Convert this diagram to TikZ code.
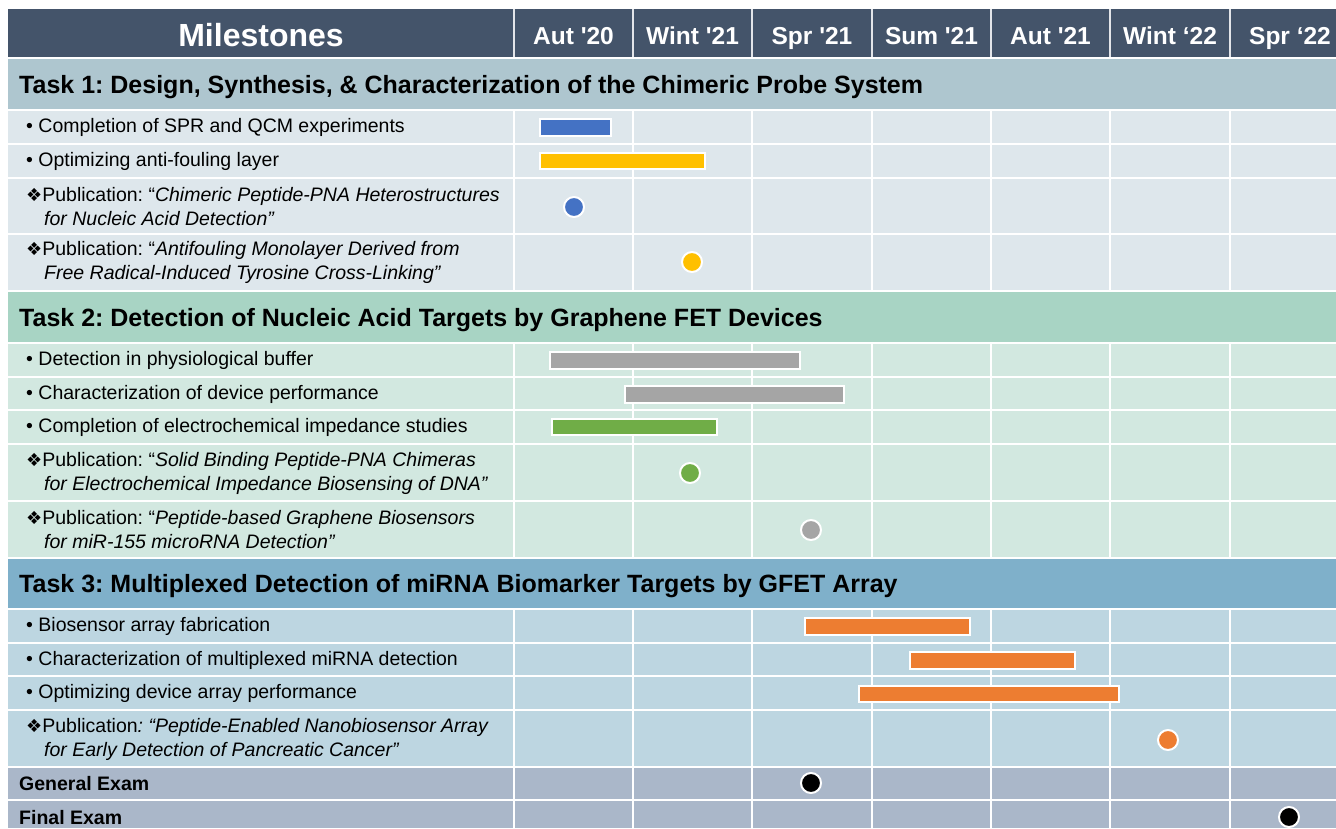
\documentclass[tikz,border=0pt]{standalone}
\usepackage{fontspec}
\setmainfont{Liberation Sans}
\newfontfamily\symfont{DejaVu Sans}
\frenchspacing
\definecolor{hdr}{HTML}{44546A}
\definecolor{tonebandA}{HTML}{AEC6CF}
\definecolor{tonerowA}{HTML}{DEE7EC}
\definecolor{tonebandB}{HTML}{A8D4C4}
\definecolor{tonerowB}{HTML}{D2E8E0}
\definecolor{tonebandC}{HTML}{7FB0CA}
\definecolor{tonerowC}{HTML}{BDD6E1}
\definecolor{toneexam}{HTML}{AAB7C9}
\definecolor{cblue}{HTML}{4472C4}
\definecolor{cyellow}{HTML}{FFC000}
\definecolor{cgray}{HTML}{A5A5A5}
\definecolor{cgreen}{HTML}{70AD47}
\definecolor{corange}{HTML}{ED7D31}
\newcommand{\dia}{{\symfont\fontsize{18}{18}\selectfont ❖}}
\newcommand{\pubindent}{\hspace*{18pt}}
\tikzset{
  hdrtxt/.style={text=white, inner sep=0pt, anchor=base, font=\bfseries\fontsize{24.5}{28}\selectfont},
  tasktxt/.style={anchor=west, inner sep=0pt, font=\bfseries\fontsize{25}{30}\selectfont},
  rowtxt/.style={anchor=west, inner sep=0pt, align=left, font=\fontsize{19.5}{24}\selectfont},
  examtxt/.style={anchor=west, inner sep=0pt, font=\bfseries\fontsize{19.5}{24}\selectfont},
  gridline/.style={draw=white, line width=2pt},
  hdrline/.style={draw=white!85!hdr, line width=1.3pt},
  barbox/.style={draw=white, line width=2pt},
  dot/.style={circle, draw=white, line width=2pt, minimum size=20pt, inner sep=0pt},
}
\begin{document}
\begin{tikzpicture}[x=1pt,y=-1pt]
\useasboundingbox (0,0) rectangle (1336,828);
\fill[white] (0,0) rectangle (1336,828);
% row fills
\fill[hdr] (8,9) rectangle (1336,57.5);
\fill[tonebandA] (8,57.5) rectangle (1336,109.5);
\fill[tonerowA] (8,109.5) rectangle (1336,290.5);
\fill[tonebandB] (8,290.5) rectangle (1336,342.5);
\fill[tonerowB] (8,342.5) rectangle (1336,557.5);
\fill[tonebandC] (8,557.5) rectangle (1336,608.5);
\fill[tonerowC] (8,608.5) rectangle (1336,766.5);
\fill[toneexam] (8,766.5) rectangle (1336,828);
% horizontal grid lines
\foreach \yy in {57.5,109.5,143.5,177.5,233.5,290.5,342.5,376.5,409.5,443.5,500.5,557.5,608.5,642.5,675.5,709.5,766.5,799.5}
  \draw[gridline] (8,\yy) -- (1336,\yy);
% vertical grid lines
\foreach \xx in {514,633,752,872,991,1110,1230}{
  \draw[hdrline] (\xx,9) -- (\xx,56.5);
  \draw[gridline] (\xx,109.5) -- (\xx,290.5);
  \draw[gridline] (\xx,342.5) -- (\xx,557.5);
  \draw[gridline] (\xx,608.5) -- (\xx,828);
}
% header
\node[hdrtxt, font=\bfseries\fontsize{32}{36}\selectfont] (ms) at (261,46.5) {Milestones};
\node[hdrtxt] (m1) at (573.5,44) {Aut \textquotesingle 20};
\node[hdrtxt] (m2) at (692.5,44) {Wint \textquotesingle 21};
\node[hdrtxt] (m3) at (812,44) {Spr \textquotesingle 21};
\node[hdrtxt] (m4) at (931.5,44) {Sum \textquotesingle 21};
\node[hdrtxt] (m5) at (1050.5,44) {Aut \textquotesingle 21};
\node[hdrtxt] (m6) at (1170,44) {Wint ‘22};
\node[hdrtxt] (m7) at (1290,44) {Spr ‘22};
% task headings
\node[tasktxt] (t1) at (19,87) {Task 1: Design, Synthesis, \& Characterization of the Chimeric Probe System};
\node[tasktxt] (t2) at (19,320) {Task 2: Detection of Nucleic Acid Targets by Graphene FET Devices};
\node[tasktxt] (t3) at (19,586.5) {Task 3: Multiplexed Detection of miRNA Biomarker Targets by GFET Array};
% task 1 rows
\node[rowtxt] (r1) at (26,127.5) {• Completion of SPR and QCM experiments};
\node[rowtxt] (r2) at (26,161.5) {• Optimizing anti-fouling layer};
\node[rowtxt] (r3) at (26,206.5) {\dia Publication: “\textit{Chimeric Peptide-PNA Heterostructures}\\\pubindent\textit{for Nucleic Acid Detection”}};
\node[rowtxt] (r4) at (26,262.5) {\dia Publication: “\textit{Antifouling Monolayer Derived from}\\\pubindent\textit{Free Radical-Induced Tyrosine Cross-Linking”}};
% task 2 rows
\node[rowtxt] (r5) at (26,360.5) {• Detection in physiological buffer};
\node[rowtxt] (r6) at (26,394) {• Characterization of device performance};
\node[rowtxt] (r7) at (26,427.5) {• Completion of electrochemical impedance studies};
\node[rowtxt] (r8) at (26,473) {\dia Publication: “\textit{Solid Binding Peptide-PNA Chimeras}\\\pubindent\textit{for Electrochemical Impedance Biosensing of DNA”}};
\node[rowtxt] (r9) at (26,530) {\dia Publication: “\textit{Peptide-based Graphene Biosensors}\\\pubindent\textit{for miR-155 microRNA Detection”}};
% task 3 rows
\node[rowtxt] (r10) at (26,626.5) {• Biosensor array fabrication};
\node[rowtxt] (r11) at (26,660) {• Characterization of multiplexed miRNA detection};
\node[rowtxt] (r12) at (26,693.5) {• Optimizing device array performance};
\node[rowtxt] (r13) at (26,739) {\dia Publication\textit{: “Peptide-Enabled Nanobiosensor Array}\\\pubindent\textit{for Early Detection of Pancreatic Cancer”}};
% exams
\node[examtxt] (ge) at (19,784) {General Exam};
\node[examtxt] (fe) at (19,817.5) {Final Exam};
% bars
\draw[barbox, fill=cblue] (540,119) rectangle (611,136);
\draw[barbox, fill=cyellow] (540,153) rectangle (705,169);
\draw[barbox, fill=cgray] (550,352) rectangle (800,369);
\draw[barbox, fill=cgray] (625,386) rectangle (844,403);
\draw[barbox, fill=cgreen] (552,419) rectangle (717,435);
\draw[barbox, fill=corange] (805,618) rectangle (970,635);
\draw[barbox, fill=corange] (910,652) rectangle (1075,669);
\draw[barbox, fill=corange] (859,686) rectangle (1119,702);
% dots
\node[dot, fill=cblue] (d1) at (574,207) {};
\node[dot, fill=cyellow] (d2) at (692,262) {};
\node[dot, fill=cgreen] (d3) at (690,473) {};
\node[dot, fill=cgray] (d4) at (811,530) {};
\node[dot, fill=corange] (d5) at (1168,740) {};
\node[dot, fill=black] (d6) at (811,783) {};
\node[dot, fill=black] (d7) at (1289,817) {};
\end{tikzpicture}
\end{document}
